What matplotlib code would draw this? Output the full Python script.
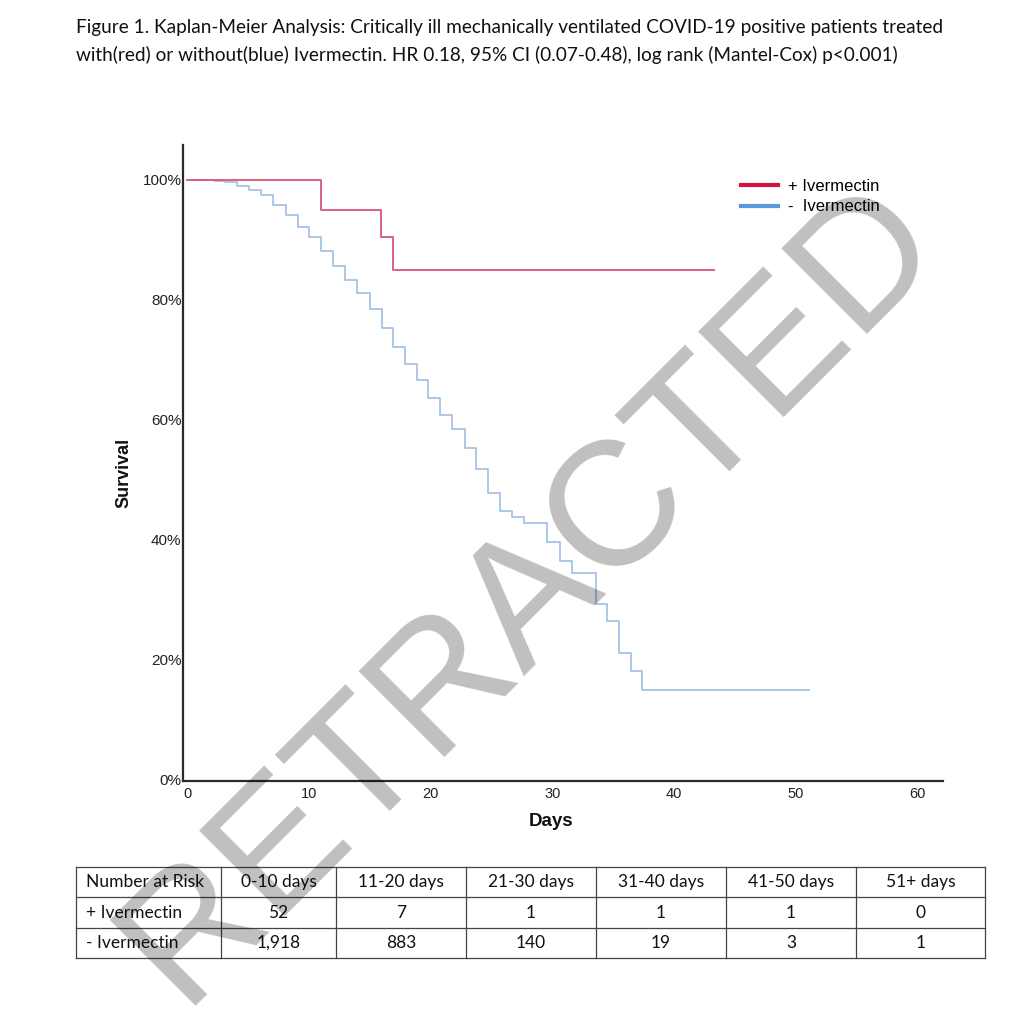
import matplotlib
matplotlib.use("Agg")
import matplotlib.pyplot as plt
from matplotlib.lines import Line2D

# ---------------- data ----------------
title_lines = [
    "Figure 1. Kaplan-Meier Analysis: Critically ill mechanically ventilated COVID-19 positive patients treated",
    "with(red) or without(blue) Ivermectin. HR 0.18, 95% CI (0.07-0.48), log rank (Mantel-Cox) p<0.001)",
]
series_labels = ["+ Ivermectin", "-  Ivermectin"]

red_times = [0, 11.0, 15.9, 16.9, 43.3]
red_surv = [100, 95.0, 90.4, 85.0, 85.0]

blue_times = [0, 2.2, 3.1, 4.1, 5.1, 6.1, 7.1, 8.1, 9.1, 10.0,
              11.0, 12.0, 13.0, 14.0, 15.0, 16.0, 16.9, 17.9, 18.9, 19.8,
              20.8, 21.8, 22.8, 23.7, 24.7, 25.7, 26.7, 27.7, 29.6, 30.6,
              31.6, 33.6, 34.5, 35.5, 36.5, 37.4, 51.1]
blue_surv = [100, 99.8, 99.6, 99.0, 98.3, 97.5, 95.8, 94.1, 92.2, 90.5,
             88.1, 85.6, 83.2, 81.1, 78.5, 75.2, 72.1, 69.2, 66.6, 63.5,
             60.7, 58.4, 55.2, 51.8, 47.7, 44.7, 43.8, 42.8, 39.6, 36.3,
             34.3, 29.2, 26.4, 21.0, 18.1, 14.9, 14.9]

x_ticks = [0, 10, 20, 30, 40, 50, 60]
y_ticks = [0, 20, 40, 60, 80, 100]

table_header = ["Number at Risk", "0-10 days", "11-20 days", "21-30 days",
                "31-40 days", "41-50 days", "51+ days"]
table_row_labels = ["+ Ivermectin", "- Ivermectin"]
risk_plus = ["52", "7", "1", "1", "1", "0"]
risk_minus = ["1,918", "883", "140", "19", "3", "1"]

watermark = "RETRACTED"

# ---------------- styles ----------------
W = H = 1024
RED_LINE = "#d9607e"
BLUE_LINE = "#9ebfe3"
RED_LEG = "#d2143c"
BLUE_LEG = "#5a9ad8"
ARIAL = ["Liberation Sans", "DejaVu Sans"]
CALIBRI = ["Lato", "DejaVu Sans"]

def fx(px):
    return px / W

def fy(py):
    return 1 - py / H

fig = plt.figure(figsize=(W / 100, H / 100), dpi=100)
fig.patch.set_facecolor("white")

# ---------------- main axes ----------------
ax = fig.add_axes([fx(183), fy(781), (943 - 183) / W, (781 - 145) / H])
ax.set_facecolor("none")
ax.step(red_times, red_surv, where="post", color=RED_LINE, lw=1.4, zorder=3)
ax.step(blue_times, blue_surv, where="post", color=BLUE_LINE, lw=1.2, zorder=2)
ax.set_xlim(-0.33, 62.1)
ax.set_ylim(-0.33, 105.8)
ax.set_xticks(x_ticks)
ax.set_xticklabels([str(v) for v in x_ticks], fontfamily=ARIAL, fontsize=10.5, color="#222222")
ax.set_yticks(y_ticks)
ax.set_yticklabels([f"{v}%" for v in y_ticks], fontfamily=ARIAL, fontsize=11, color="#222222")
ax.tick_params(axis="both", length=0)
ax.tick_params(axis="x", pad=4)
ax.tick_params(axis="y", pad=1)
for s in ["top", "right"]:
    ax.spines[s].set_visible(False)
for s in ["left", "bottom"]:
    ax.spines[s].set_color("#2a2a2a")
    ax.spines[s].set_linewidth(1.6)

handles = [Line2D([], [], color=RED_LEG, lw=3),
           Line2D([], [], color=BLUE_LEG, lw=3)]
ax.legend(handles, series_labels, loc="upper left",
          bbox_to_anchor=(fx(741), fy(179)), bbox_transform=fig.transFigure,
          frameon=False, borderpad=0, borderaxespad=0, handlelength=2.2,
          handletextpad=0.6, labelspacing=0.32,
          prop={"family": ARIAL, "size": 12})

fig.text(fx(124), fy(473), "Survival", rotation=90, ha="center", va="center",
         fontfamily=ARIAL, fontweight="bold", fontsize=13, color="#111111")
fig.text(fx(551), fy(822), "Days", ha="center", va="center",
         fontfamily=ARIAL, fontweight="bold", fontsize=13.5, color="#111111")

# ---------------- title ----------------
renderer = fig.canvas.get_renderer()
t1 = fig.text(fx(76), fy(27), title_lines[0], ha="left", va="center",
              fontfamily=CALIBRI, fontsize=13, color="#111111")
w1 = t1.get_window_extent(renderer).width
tsize = 13 * 869 / w1
t1.set_fontsize(tsize)
fig.text(fx(76), fy(55), title_lines[1], ha="left", va="center",
         fontfamily=CALIBRI, fontsize=tsize, color="#111111")

# ---------------- table ----------------
tax = fig.add_axes([0, 0, 1, 1], zorder=-2)
tax.set_xlim(0, W)
tax.set_ylim(H, 0)
tax.axis("off")
col_edges = [76, 221, 336, 466, 596, 726, 856, 985]
row_edges = [867, 897, 928, 958]
for xe in col_edges:
    tax.plot([xe, xe], [row_edges[0], row_edges[-1]], color="#444444", lw=0.9)
for ye in row_edges:
    tax.plot([col_edges[0], col_edges[-1]], [ye, ye], color="#444444", lw=0.9)

probe = tax.text(0, 0, table_header[0], fontfamily=CALIBRI, fontsize=12)
pw = probe.get_window_extent(renderer).width
tab_size = 12 * 117 / pw
probe.remove()

rows = [table_header,
        [table_row_labels[0]] + risk_plus,
        [table_row_labels[1]] + risk_minus]
for r, row in enumerate(rows):
    yc = (row_edges[r] + row_edges[r + 1]) / 2
    for c, val in enumerate(row):
        if c == 0:
            tax.text(col_edges[0] + 10, yc, val, ha="left", va="center",
                     fontfamily=CALIBRI, fontsize=tab_size, color="#111111")
        else:
            xc = (col_edges[c] + col_edges[c + 1]) / 2
            tax.text(xc, yc, val, ha="center", va="center",
                     fontfamily=CALIBRI, fontsize=tab_size, color="#111111")

# ---------------- watermark ----------------
fig.text(fx(562), fy(624), watermark, rotation=45, rotation_mode="anchor",
         ha="center", va="baseline", fontfamily=ARIAL, fontsize=127,
         color="black", alpha=0.25, zorder=10)

fig.savefig("out.png", dpi=100, facecolor="white")
